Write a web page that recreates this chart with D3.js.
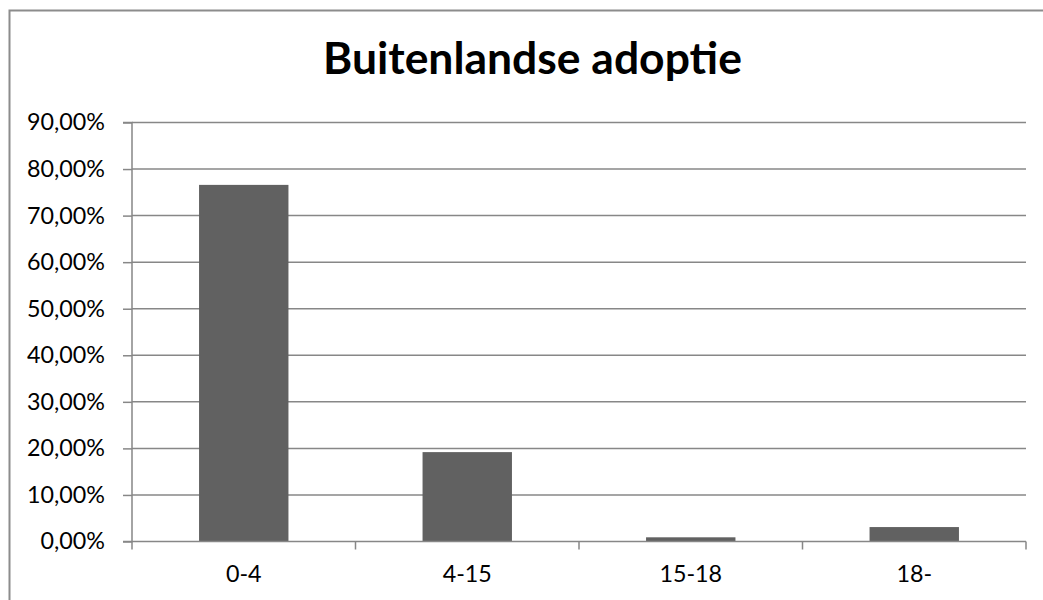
<!DOCTYPE html>
<html><head><meta charset="utf-8">
<script src="https://cdn.jsdelivr.net/npm/d3@7"></script>
<style>body{margin:0;background:#fff}svg{display:block}</style>
</head><body>
<script>
const categories = ["0-4", "4-15", "15-18", "18-"];
const values = [0.766, 0.192, 0.009, 0.031];
const yTicks = [0, 0.1, 0.2, 0.3, 0.4, 0.5, 0.6, 0.7, 0.8, 0.9];
const title = "Buitenlandse adoptie";

const W = 1043, H = 600;
const svg = d3.select("body").append("svg").attr("width", W).attr("height", H);
svg.append("rect").attr("x", 9.5).attr("y", 10.5).attr("width", 1100).attr("height", 700)
  .attr("fill", "#fff").attr("stroke", "#8c8c8c").attr("stroke-width", 2);

const pL = 132, pR = 1026, pT = 122.5, pB = 541.5;
const x = d3.scaleBand().domain(categories).range([pL, pR]).paddingInner(0.6).paddingOuter(0.3);
const xb = d3.scaleBand().domain(categories).range([pL, pR]);
const y = d3.scaleLinear().domain([0, 0.9]).range([pB, pT]);
const fmt = v => d3.format(".2f")(v * 100).replace(".", ",") + "%";
const FONT = "Lato";

function fitSize(text, weight, target) {
  const t = svg.append("text").attr("font-family", FONT).attr("font-weight", weight)
    .attr("font-size", 100).text(text);
  const w = t.node().getComputedTextLength();
  t.remove();
  return 100 * target / w;
}
const labelSize = Math.min(26, fitSize("90,00%", "normal", 78));
const titleSize = Math.min(46, fitSize(title, "bold", 419));

const grid = "#878787";
svg.append("g").selectAll("line").data(yTicks.filter(t => t > 0)).join("line")
  .attr("x1", pL).attr("x2", pR).attr("y1", d => y(d)).attr("y2", d => y(d))
  .attr("stroke", grid).attr("stroke-width", 1.5);

svg.append("g").selectAll("rect").data(values).join("rect")
  .attr("x", (d, i) => x(categories[i])).attr("width", x.bandwidth())
  .attr("y", d => y(d)).attr("height", d => pB - y(d))
  .attr("fill", "#616161");

const yAxis = d3.axisLeft(y).tickValues(yTicks).tickFormat(fmt).tickSize(9).tickPadding(18);
const gy = svg.append("g").attr("transform", `translate(${pL},0)`).call(yAxis);
gy.select(".domain").attr("stroke", grid).attr("stroke-width", 1.5).attr("d", `M-9,${pT}H0V${pB}H-9`);
gy.selectAll(".tick line").attr("stroke", grid).attr("stroke-width", 1.5);
gy.selectAll(".tick text").attr("font-family", FONT).attr("font-size", labelSize).attr("fill", "#000");

const xAxis = d3.axisBottom(xb).tickSize(0).tickPadding(24);
const gx = svg.append("g").attr("transform", `translate(0,${pB})`).call(xAxis);
gx.select(".domain").attr("stroke", grid).attr("stroke-width", 1.5).attr("d", `M${pL},0H${pR}`);
gx.selectAll(".tick text").attr("font-family", FONT).attr("font-size", labelSize).attr("fill", "#000");
svg.append("g").selectAll("line").data(d3.range(categories.length + 1)).join("line")
  .attr("x1", i => pL + i * xb.step()).attr("x2", i => pL + i * xb.step())
  .attr("y1", pB).attr("y2", pB + 8).attr("stroke", grid).attr("stroke-width", 1.5);

svg.append("text").attr("x", 532.5).attr("y", 74).attr("text-anchor", "middle")
  .attr("font-family", FONT).attr("font-weight", "bold").attr("font-size", titleSize)
  .attr("fill", "#000").text(title);
</script>
</body></html>
